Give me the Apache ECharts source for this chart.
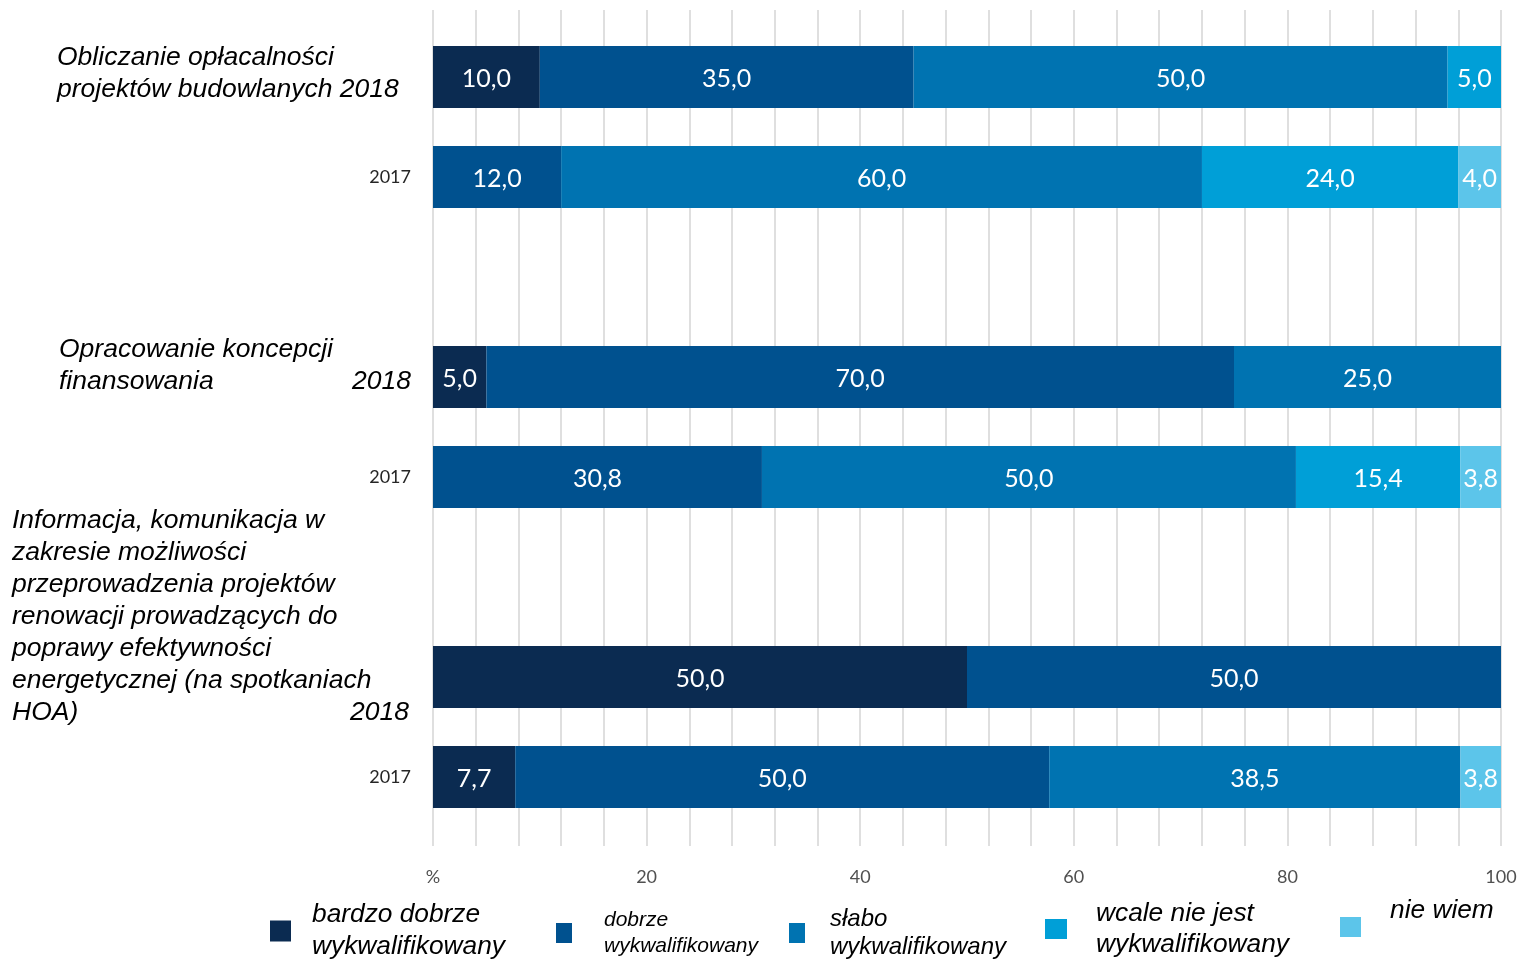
<!DOCTYPE html>
<html>
<head>
<meta charset="utf-8">
<script src="https://cdn.jsdelivr.net/npm/echarts@6/dist/echarts.min.js"></script>
<style>
html,body{margin:0;padding:0;background:#fff;}
#chart{width:1526px;height:959px;}
</style>
</head>
<body>
<div id="chart"></div>
<script>
// ---- data ----
const rowKeys = ['A2018', 'A2017', 'gap1', 'B2018', 'B2017', 'gap2', 'C2018', 'C2017'];
const rowYearLabels = ['', '2017', '', '', '2017', '', '', '2017'];
const seriesNames = ['bardzo dobrze wykwalifikowany', 'dobrze wykwalifikowany', 'słabo wykwalifikowany', 'wcale nie jest wykwalifikowany', 'nie wiem'];
const bardzoDobrze = [10.0, null, null, 5.0, null, null, 50.0, 7.7];
const dobrze       = [35.0, 12.0, null, 70.0, 30.8, null, 50.0, 50.0];
const slabo        = [50.0, 60.0, null, 25.0, 50.0, null, null, 38.5];
const wcaleNie     = [5.0, 24.0, null, null, 15.4, null, null, null];
const nieWiem      = [null, 4.0, null, null, 3.8, null, null, 3.8];
const groupTitles = [
  'Obliczanie opłacalności\nprojektów budowlanych 2018',
  'Opracowanie koncepcji\nfinansowania',
  'Informacja, komunikacja w\nzakresie możliwości\nprzeprowadzenia projektów\nrenowacji prowadzących do\npoprawy efektywności\nenergetycznej (na spotkaniach\nHOA)'
];
const groupYear = '2018';
const legendTexts = [
  'bardzo dobrze\nwykwalifikowany',
  'dobrze\nwykwalifikowany',
  'słabo\nwykwalifikowany',
  'wcale nie jest\nwykwalifikowany',
  'nie wiem\n '
];
const xTickLabels = {0: '%', 20: '20', 40: '40', 60: '60', 80: '80', 100: '100'};

// ---- styles ----
const colors = ['#0b2b51', '#00518f', '#0073b1', '#009fd7', '#5cc5ea'];
const valueData = [bardzoDobrze, dobrze, slabo, wcaleNie, nieWiem];
const italicFont = "'Liberation Sans', Arial, sans-serif";
const numFont = "Lato, 'Open Sans', sans-serif";

const chart = echarts.init(document.getElementById('chart'));

const series = seriesNames.map((name, i) => ({
  name: name,
  type: 'bar',
  stack: 'total',
  xAxisIndex: 0,
  yAxisIndex: 0,
  barWidth: 62,
  data: valueData[i],
  itemStyle: {color: colors[i]},
  emphasis: {disabled: true},
  label: {
    show: true,
    position: 'inside',
    color: '#ffffff',
    fontFamily: numFont,
    fontSize: 25,
    offset: [0, 2],
    formatter: p => (p.value == null ? '' : Number(p.value).toFixed(1).replace('.', ','))
  }
}));

// legend layout per item
const legendLayout = [
  {left: 270, top: 899, w: 21, h: 21, fs: 26.3, lh: 32, pad: 16},
  {left: 556, top: 907, w: 16, h: 20, fs: 21, lh: 26, pad: 27},
  {left: 789, top: 905, w: 16, h: 20, fs: 24, lh: 28, pad: 20},
  {left: 1045, top: 898, w: 22, h: 20, fs: 26.3, lh: 31, pad: 24},
  {left: 1340, top: 895, w: 21, h: 20, fs: 26.3, lh: 32, pad: 24}
];
const legends = seriesNames.map((name, i) => {
  const L = legendLayout[i];
  return {
    data: [name],
    left: L.left,
    top: L.top,
    padding: 0,
    itemWidth: L.w,
    itemHeight: L.h,
    icon: 'rect',
    selectedMode: false,
    formatter: () => legendTexts[i],
    textStyle: {
      fontFamily: italicFont,
      fontStyle: 'italic',
      fontSize: L.fs,
      lineHeight: L.lh,
      color: '#000',
      padding: [0, 0, 0, L.pad]
    }
  };
});

const labelStyle = (extra) => Object.assign({
  fontFamily: italicFont,
  fontStyle: 'italic',
  fontSize: 26.5,
  lineHeight: 32,
  fill: '#000'
}, extra);

const graphic = [
  {type: 'text', left: 57, top: 42, style: labelStyle({text: groupTitles[0]})},
  {type: 'text', left: 59, top: 334, style: labelStyle({text: groupTitles[1]})},
  {type: 'text', right: 1526 - 411, top: 366, style: labelStyle({text: groupYear})},
  {type: 'text', left: 12, top: 505, style: labelStyle({text: groupTitles[2]})},
  {type: 'text', right: 1526 - 409, top: 697, style: labelStyle({text: groupYear})}
];

chart.setOption({
  animation: false,
  backgroundColor: '#ffffff',
  grid: [
    {left: 433, right: 25, top: 27, bottom: 132, containLabel: false},
    {left: 433, right: 25, top: 10, bottom: 113, containLabel: false}
  ],
  xAxis: [
    {type: 'value', gridIndex: 0, min: 0, max: 100, show: false},
    {
      type: 'value', gridIndex: 1, min: 0, max: 100, interval: 4,
      axisLine: {show: false},
      axisTick: {show: false},
      splitLine: {show: true, lineStyle: {color: '#dfdfdf', width: 2}},
      axisLabel: {
        margin: 22,
        color: '#505050',
        fontFamily: numFont,
        fontSize: 18,
        formatter: v => (xTickLabels[v] !== undefined ? xTickLabels[v] : '')
      }
    }
  ],
  yAxis: [
    {
      type: 'category', gridIndex: 0, inverse: true, data: rowKeys,
      axisLine: {show: false},
      axisTick: {show: false},
      splitLine: {show: false},
      axisLabel: {
        margin: 22,
        color: '#262626',
        fontFamily: numFont,
        fontSize: 18,
        formatter: (v, idx) => rowYearLabels[idx]
      }
    },
    {type: 'category', gridIndex: 1, data: [], show: false}
  ],
  legend: legends,
  graphic: graphic,
  series: series
});
</script>
</body>
</html>
